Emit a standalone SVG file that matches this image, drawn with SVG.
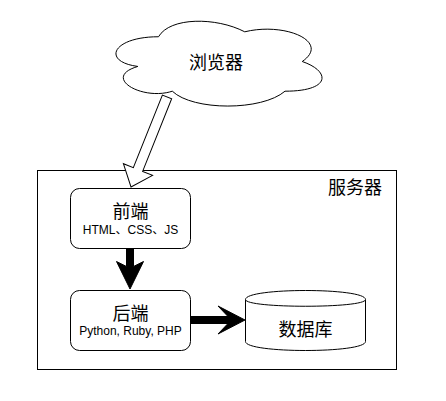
<svg xmlns="http://www.w3.org/2000/svg" width="446" height="401" viewBox="0 0 446 401">
<style>
.shape{fill:#fff;stroke:#000;stroke-width:1}
.cjk{font-family:"Liberation Sans","Noto Sans CJK SC",sans-serif;font-size:18px;fill:#000;text-anchor:middle}
.lat{font-family:"Liberation Sans","Noto Sans CJK SC",sans-serif;font-size:12px;fill:#000;text-anchor:middle}
.solid{fill:#000;stroke:#000;stroke-width:1}
</style>
<rect width="446" height="401" fill="#fff"/>
<g id="server">
<rect class="shape" x="37.5" y="170.5" width="359" height="199"/>
<text class="cjk" x="355" y="194">服务器</text>
</g>
<g id="frontend">
<rect class="shape" x="70.5" y="188.5" width="120" height="60" rx="9"/>
<text class="cjk" x="130.5" y="218">前端</text>
<text class="lat" x="130.5" y="234">HTML、CSS、JS</text>
</g>
<g id="backend">
<rect class="shape" x="70.5" y="290.5" width="120" height="60" rx="9"/>
<text class="cjk" x="130.5" y="319.5">后端</text>
<text class="lat" x="130.5" y="335">Python, Ruby, PHP</text>
</g>
<g id="database">
<path class="shape" d="M245.5,299.5 C245.5,287.5 365.5,287.5 365.5,299.5 L365.5,341.5 C365.5,353.5 245.5,353.5 245.5,341.5 Z"/>
<path class="shape" fill="none" d="M245.5,299.5 C245.5,308.5 365.5,308.5 365.5,299.5"/>
<text class="cjk" x="305.5" y="336">数据库</text>
</g>
<g id="browser">
<path class="shape" d="M158.5,36.75 C112.5,36.75 101,61.5 137.8,66.45 C101,77.34 142.4,101.1 172.3,91.2 C193,111 262,111 285,91.2 C331,91.2 331,71.4 302.25,61.5 C331,41.7 285,21.9 244.75,31.8 C216,16.95 170,16.95 158.5,36.75 Z"/>
<text class="cjk" x="216" y="68.5">浏览器</text>
</g>
<g id="connectors">
<polygon class="shape" transform="translate(131,187) rotate(-68.2)" points="0,0 18.8,15.7 18.8,5 97,5 97,-5 18.8,-5 18.8,-15.7"/>
<polygon class="solid" points="126.5,249 133.5,249 133.5,266.5 143.5,261.5 130,289 116.5,261.5 126.5,266.5"/>
<polygon class="solid" points="191,316.5 228,316.5 218,306 245,320 218,334 228,323.5 191,323.5"/>
</g>
</svg>
